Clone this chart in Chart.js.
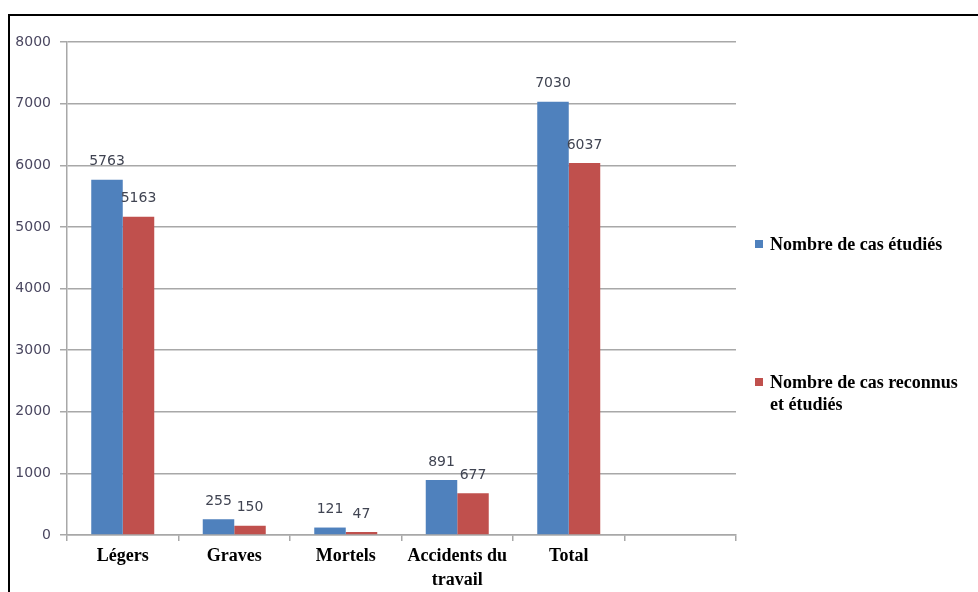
<!DOCTYPE html>
<html lang="fr">
<head>
  <meta charset="UTF-8" />
  <title>Cas étudiés et reconnus</title>
  <script src="https://cdn.jsdelivr.net/npm/chart.js"></script>
  <style>
    html, body {
      margin: 0;
      padding: 0;
      background: #fff;
      overflow: hidden;
    }

    #wrap {
      position: relative;
      width: 978px;
      height: 592px;
    }

    #frame {
      position: absolute;
      left: 8px;
      top: 14px;
      width: 1000px;
      height: 620px;
      border: 2px solid #000;
      box-sizing: border-box;
    }

    canvas {
      position: absolute;
      left: 0;
      top: 0;
    }

    .leg-item {
      position: absolute;
      left: 755px;
      font-family: "Liberation Serif", "Times New Roman", serif;
      font-weight: bold;
      font-size: 18px;
      line-height: 22px;
      color: #000;
    }

    .leg-box {
      position: absolute;
      left: 0;
      top: 7px;
      width: 8px;
      height: 8px;
    }

    .leg-text {
      margin-left: 15px;
      width: 205px;
      white-space: nowrap;
    }
  </style>
</head>
<body>
  <div id="wrap">
    <div id="frame"></div>
    <canvas id="casChart" width="978" height="592"></canvas>
    <div id="legend"></div>
  </div>

  <script>
    const categories = ['Légers', 'Graves', 'Mortels', ['Accidents du', 'travail'], 'Total', ''];
    const casEtudies = [5763, 255, 121, 891, 7030, null];
    const casReconnus = [5163, 150, 47, 677, 6037, null];
    const seriesNames = ['Nombre de cas étudiés', 'Nombre de cas reconnus et étudiés'];
    const seriesColors = ['#4f81bd', '#c0504d'];
    const legendTops = [233, 371];

    // value printed above each bar
    const valueLabels = {
      id: 'valueLabels',
      afterDatasetsDraw(chart) {
        const ctx = chart.ctx;
        ctx.save();
        ctx.font = '14px "DejaVu Sans", sans-serif';
        ctx.fillStyle = '#404452';
        ctx.textAlign = 'center';
        ctx.textBaseline = 'middle';
        chart.data.datasets.forEach((ds, i) => {
          chart.getDatasetMeta(i).data.forEach((bar, j) => {
            const v = ds.data[j];
            if (v == null) return;
            ctx.fillText(String(v), bar.x, bar.y - 18);
          });
        });
        ctx.restore();
      }
    };

    const gridGray = '#a8a8a8';

    const chart = new Chart(document.getElementById('casChart'), {
      type: 'bar',
      data: {
        labels: categories,
        datasets: [{
          label: seriesNames[0],
          data: casEtudies,
          backgroundColor: seriesColors[0]
        }, {
          label: seriesNames[1],
          data: casReconnus,
          backgroundColor: seriesColors[1]
        }]
      },
      options: {
        responsive: false,
        animation: false,
        layout: {
          padding: { top: 42, right: 242, left: 0, bottom: 0 }
        },
        datasets: {
          bar: { categoryPercentage: 0.565, barPercentage: 1 }
        },
        plugins: {
          legend: { display: false },
          tooltip: { enabled: false }
        },
        scales: {
          y: {
            min: 0,
            max: 8000,
            ticks: {
              stepSize: 1000,
              padding: 9,
              color: '#4a4760',
              font: { family: '"DejaVu Sans", sans-serif', size: 14 },
              callback: v => String(v)
            },
            grid: { color: gridGray, lineWidth: 1.5, tickLength: 7 },
            border: { color: gridGray, width: 1.5 },
            afterFit(scale) { scale.width = 67; }
          },
          x: {
            offset: true,
            ticks: {
              autoSkip: false,
              maxRotation: 0,
              padding: 4,
              color: '#000',
              font: { family: '"Liberation Serif", "Times New Roman", serif', size: 18, weight: 'bold', lineHeight: 1.3 }
            },
            grid: { drawOnChartArea: false, color: gridGray, lineWidth: 1.5, tickLength: 6 },
            border: { color: gridGray, width: 1.5 },
            afterFit(scale) { scale.height = 57; }
          }
        }
      },
      plugins: [valueLabels]
    });

    // legend on the right, spread like the original layout
    const legend = document.getElementById('legend');
    chart.data.datasets.forEach((ds, i) => {
      const item = document.createElement('div');
      item.className = 'leg-item';
      item.style.top = legendTops[i] + 'px';
      const words = ds.label.split(' ');
      // second entry breaks after "reconnus"
      const text = words.length > 5 ? words.slice(0, 4).join(' ') + '<br>' + words.slice(4).join(' ') : ds.label;
      item.innerHTML = `<span class="leg-box" style="background:${ds.backgroundColor}"></span><div class="leg-text">${text}</div>`;
      legend.appendChild(item);
    });
  </script>
</body>
</html>
